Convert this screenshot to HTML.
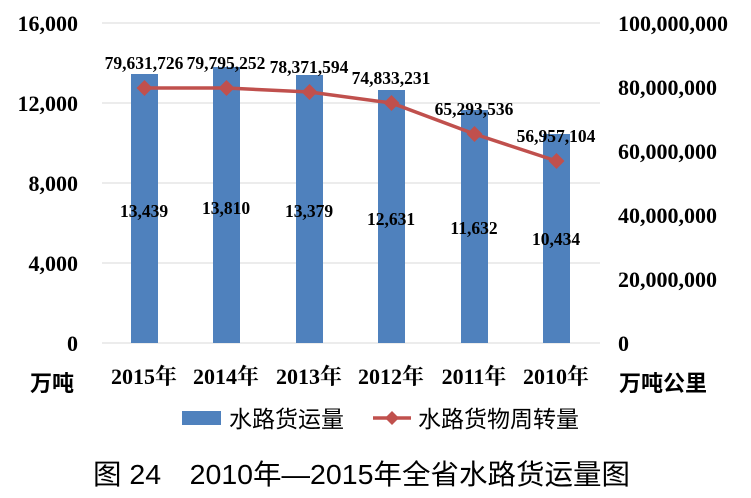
<!DOCTYPE html>
<html><head><meta charset="utf-8"><style>
body{margin:0;background:#fff}
svg{display:block}
.s{font-family:"Liberation Serif","Noto Serif CJK SC",serif;font-weight:bold}
.c{font-family:"Liberation Sans","Noto Sans CJK SC",sans-serif}
</style></head><body>
<svg width="751" height="498" viewBox="0 0 751 498" xmlns="http://www.w3.org/2000/svg">
<g stroke="#d9d9d9" stroke-width="1">
<line x1="102" y1="23" x2="600" y2="23"/><line x1="102" y1="103" x2="600" y2="103"/>
<line x1="102" y1="183" x2="600" y2="183"/><line x1="102" y1="263" x2="600" y2="263"/>
<line x1="102" y1="343" x2="600" y2="343"/></g>
<g class="s" font-size="22" text-anchor="end" fill="#000">
<text x="78" y="31">16,000</text><text x="78" y="111">12,000</text><text x="78" y="191">8,000</text>
<text x="78" y="271">4,000</text><text x="78" y="351">0</text></g>
<g class="s" font-size="22" fill="#000">
<text x="618" y="31">100,000,000</text><text x="618" y="95">80,000,000</text><text x="618" y="159">60,000,000</text>
<text x="618" y="223">40,000,000</text><text x="618" y="287">20,000,000</text><text x="618" y="351">0</text></g>
<g fill="#4f81bd">
<rect x="131" y="74" width="27" height="269"/><rect x="213" y="67" width="27" height="276"/>
<rect x="296" y="75" width="27" height="268"/><rect x="378" y="90" width="27" height="253"/>
<rect x="461" y="110" width="27" height="233"/><rect x="543" y="134" width="27" height="209"/></g>
<polyline fill="none" stroke="#c0504d" stroke-width="3.5" points="144.5,88 226.5,88 309.5,92 391.5,103 474.5,134 556.5,161"/>
<g fill="#c0504d">
<path d="M144.5,80 l8,8 -8,8 -8,-8z"/><path d="M226.5,80 l8,8 -8,8 -8,-8z"/><path d="M309.5,84 l8,8 -8,8 -8,-8z"/>
<path d="M391.5,95 l8,8 -8,8 -8,-8z"/><path d="M474.5,126 l8,8 -8,8 -8,-8z"/><path d="M556.5,153 l8,8 -8,8 -8,-8z"/></g>
<g class="s" font-size="17.5" text-anchor="middle" fill="#000">
<text x="144" y="69">79,631,726</text><text x="226" y="69">79,795,252</text><text x="309" y="73">78,371,594</text>
<text x="391" y="84">74,833,231</text><text x="474" y="115">65,293,536</text><text x="556" y="142">56,957,104</text>
<text x="144" y="217">13,439</text><text x="226" y="214">13,810</text><text x="309" y="217">13,379</text>
<text x="391" y="225">12,631</text><text x="474" y="234">11,632</text><text x="556" y="245">10,434</text></g>
<g class="s" font-size="22" text-anchor="middle" fill="#000">
<text x="144" y="384">2015年</text><text x="226" y="384">2014年</text><text x="309" y="384">2013年</text>
<text x="391" y="384">2012年</text><text x="474" y="384">2011年</text><text x="556" y="384">2010年</text></g>
<g class="c" font-size="22" font-weight="bold" fill="#000">
<text x="30" y="391">万吨</text><text x="619" y="391">万吨公里</text></g>
<rect x="182" y="411" width="39" height="14" fill="#4f81bd"/>
<text class="c" x="229" y="427" font-size="23" fill="#000">水路货运量</text>
<line x1="373" y1="418" x2="411" y2="418" stroke="#c0504d" stroke-width="3.5"/>
<path d="M392,411 l7,7 -7,7 -7,-7z" fill="#c0504d"/>
<text class="c" x="418" y="427" font-size="23" fill="#000">水路货物周转量</text>
<text class="c" x="93" y="484" font-size="28" textLength="537" lengthAdjust="spacingAndGlyphs" fill="#000">图 24　2010年—2015年全省水路货运量图</text>
</svg>
</body></html>
